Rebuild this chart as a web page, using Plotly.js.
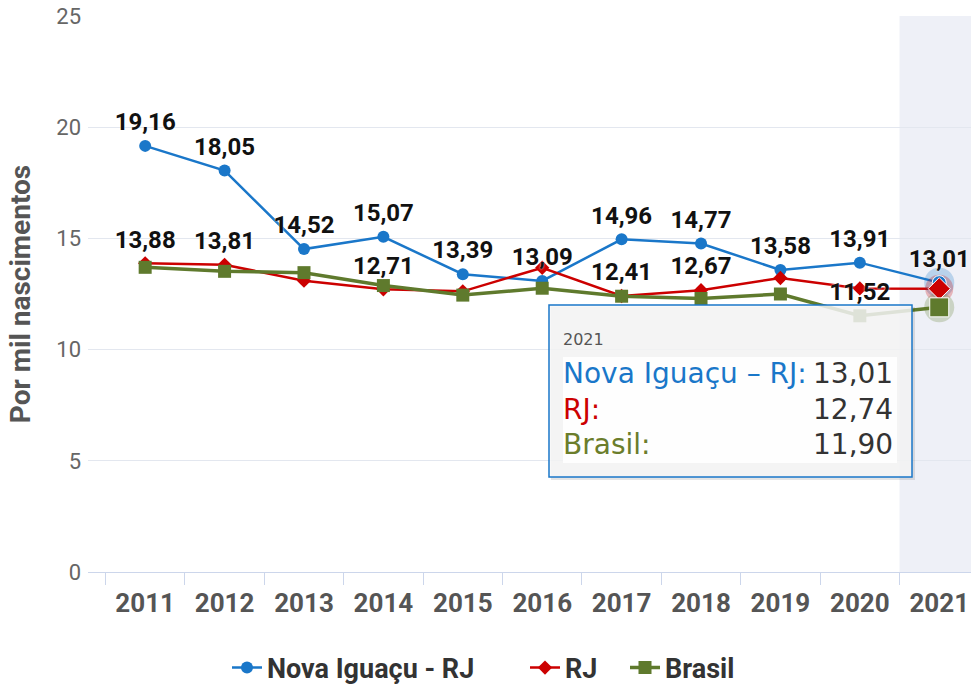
<!DOCTYPE html>
<html>
<head>
<meta charset="utf-8">
<script src="https://cdn.plot.ly/plotly-3.0.1.min.js"></script>
<style>html,body{margin:0;padding:0;background:#fff;}#chart{width:971px;height:685px;}</style>
</head>
<body>
<div id="chart"></div>
<script>
// ---- data ----
const years = ['2011','2012','2013','2014','2015','2016','2017','2018','2019','2020','2021'];
const novaIguacu = [19.16, 18.05, 14.52, 15.07, 13.39, 13.09, 14.96, 14.77, 13.58, 13.91, 13.01];
const rj         = [13.88, 13.81, 13.10, 12.71, 12.62, 13.68, 12.41, 12.67, 13.22, 12.75, 12.74];
const brasil     = [13.70, 13.52, 13.46, 12.88, 12.45, 12.76, 12.40, 12.30, 12.50, 11.52, 11.90];
const seriesNames = ['Nova Iguaçu - RJ', 'RJ', 'Brasil'];
const novaLabelYears = years.slice();
const rjLabelYears = ['2011','2012','2014','2017','2018'];
const brasilLabelYears = ['2020'];
const hoverYear = '2021';
const yTitle = 'Por mil nascimentos';

// ---- styles ----
const cNova = '#1a77c9', cRJ = '#cc0000', cBR = '#5f7a2d';
const fmt = v => v.toFixed(2).replace('.', ',');
const hi = years.indexOf(hoverYear);

// pixel -> paper helpers (plot area: x 88..971, y 16..572)
const W = 971, H = 685;
const PX0 = 88, PW = 883, PY0 = 572, PH = 556;
const px = x => (x - PX0) / PW;
const py = y => (PY0 - y) / PH;

function labelTrace(vals, showYears) {
  return {
    x: years, y: vals, mode: 'markers+text', type: 'scatter', showlegend: false, hoverinfo: 'skip',
    marker: {size: 14, opacity: 0, color: 'rgba(0,0,0,0)'},
    text: vals.map((v, i) => showYears.includes(years[i]) ? fmt(v) : ''),
    textposition: 'top center',
    textfont: {family: 'Roboto', size: 24, weight: 'bold', color: '#111', shadow: '0 0 2px #fff'},
    cliponaxis: false
  };
}

const traces = [
  {x: years, y: novaIguacu, name: seriesNames[0], type: 'scatter', mode: 'lines+markers', legend: 'legend',
   line: {color: cNova, width: 2.5}, marker: {symbol: 'circle', size: 12, color: cNova}},
  {x: years, y: rj, name: seriesNames[1], type: 'scatter', mode: 'lines+markers', legend: 'legend2',
   line: {color: cRJ, width: 2.5}, marker: {symbol: 'diamond', size: 11, color: cRJ}},
  {x: years, y: brasil, name: seriesNames[2], type: 'scatter', mode: 'lines+markers', legend: 'legend3',
   line: {color: cBR, width: 3.5}, marker: {symbol: 'square', size: 13, color: cBR}},
  // hover halos at the highlighted year
  {x: [years[hi]], y: [novaIguacu[hi]], type: 'scatter', mode: 'markers', showlegend: false, hoverinfo: 'skip',
   marker: {symbol: 'circle', size: 30, color: 'rgba(26,119,201,0.25)'}},
  {x: [years[hi]], y: [rj[hi]], type: 'scatter', mode: 'markers', showlegend: false, hoverinfo: 'skip',
   marker: {symbol: 'circle', size: 28, color: 'rgba(204,0,0,0.25)'}},
  {x: [years[hi]], y: [brasil[hi]], type: 'scatter', mode: 'markers', showlegend: false, hoverinfo: 'skip',
   marker: {symbol: 'circle', size: 30, color: 'rgba(95,122,45,0.25)'}},
  {x: [years[hi]], y: [novaIguacu[hi]], type: 'scatter', mode: 'markers', showlegend: false, hoverinfo: 'skip',
   marker: {symbol: 'circle', size: 14, color: cNova, line: {color: '#fff', width: 1}}},
  {x: [years[hi]], y: [rj[hi]], type: 'scatter', mode: 'markers', showlegend: false, hoverinfo: 'skip',
   marker: {symbol: 'diamond', size: 17, color: cRJ, line: {color: '#fff', width: 1}}},
  {x: [years[hi]], y: [brasil[hi]], type: 'scatter', mode: 'markers', showlegend: false, hoverinfo: 'skip',
   marker: {symbol: 'square', size: 19, color: cBR, line: {color: '#fff', width: 1}}},
  labelTrace(novaIguacu, novaLabelYears),
  labelTrace(rj, rjLabelYears),
  labelTrace(brasil, brasilLabelYears)
];

const ttFont = 'DejaVu Sans';
const ttRows = [
  {name: seriesNames[0].replace(' - ', ' – ') + ':', val: novaIguacu[hi], color: cNova, y: 373},
  {name: seriesNames[1] + ':', val: rj[hi], color: cRJ, y: 409},
  {name: seriesNames[2] + ':', val: brasil[hi], color: '#6b7d2b', y: 444}
];
const annotations = [
  {xref: 'paper', yref: 'paper', x: px(561), y: py(340), xanchor: 'left', yanchor: 'middle', showarrow: false,
   text: hoverYear, font: {family: ttFont, size: 16, color: '#555'}}
];
ttRows.forEach(r => {
  annotations.push({xref: 'paper', yref: 'paper', x: px(561), y: py(r.y), xanchor: 'left', yanchor: 'middle', showarrow: false,
    text: r.name, font: {family: ttFont, size: 28, color: r.color}});
  annotations.push({xref: 'paper', yref: 'paper', x: px(895), y: py(r.y), xanchor: 'right', yanchor: 'middle', showarrow: false,
    text: fmt(r.val), font: {family: ttFont, size: 28, color: '#333'}});
});

const shapes = [
  {type: 'rect', layer: 'below', xref: 'x', yref: 'paper', x0: hi - 0.5, x1: hi + 0.5, y0: 0, y1: 1,
   fillcolor: '#eef0f7', line: {width: 0}},
  {type: 'rect', layer: 'above', xref: 'paper', yref: 'paper', x0: px(551), x1: px(915), y0: py(480), y1: py(307),
   fillcolor: 'rgba(0,0,0,0.10)', line: {width: 0}},
  {type: 'rect', layer: 'above', xref: 'paper', yref: 'paper', x0: px(549), x1: px(912), y0: py(477), y1: py(305),
   fillcolor: 'rgba(247,247,247,0.85)', line: {color: cNova, width: 1.5}},
  {type: 'rect', layer: 'above', xref: 'paper', yref: 'paper', x0: px(563), x1: px(897), y0: py(463), y1: py(357),
   fillcolor: 'rgba(255,255,255,0.9)', line: {width: 0}}
];

const legendFont = {family: 'Roboto', size: 27, weight: 'bold', color: '#333'};
const legendBase = {orientation: 'h', xanchor: 'left', yanchor: 'middle', yref: 'container', y: 1 - 668 / H,
                    font: legendFont, itemwidth: 30, bgcolor: 'rgba(0,0,0,0)'};

const layout = {
  width: W, height: H,
  margin: {l: PX0, r: 0, t: 16, b: 113, pad: 0},
  paper_bgcolor: '#fff', plot_bgcolor: '#fff',
  showlegend: true,
  hovermode: false,
  xaxis: {
    type: 'category', range: [-0.72, 10.4], tickson: 'boundaries', ticks: 'outside', ticklen: 12,
    tickcolor: '#ccd6eb', tickwidth: 1, showgrid: false, showline: true, linecolor: '#ccd6eb', linewidth: 1,
    zeroline: false, fixedrange: true, ticklabelstandoff: 8,
    tickfont: {family: 'Roboto', size: 26, weight: 'bold', color: '#555'}
  },
  yaxis: {
    range: [0, 25], tickmode: 'linear', tick0: 0, dtick: 5, gridcolor: '#e3e7ef', gridwidth: 1,
    zeroline: false, showline: false, fixedrange: true, ticklabelstandoff: 6,
    tickfont: {family: 'Roboto', size: 22, color: '#666'},
    title: {text: yTitle, standoff: 17, font: {family: 'Roboto', size: 28, weight: 'bold', color: '#555'}}
  },
  legend: Object.assign({}, legendBase, {x: px(227)}),
  legend2: Object.assign({}, legendBase, {x: px(525)}),
  legend3: Object.assign({}, legendBase, {x: px(625)}),
  shapes: shapes,
  annotations: annotations
};

Plotly.newPlot('chart', traces, layout, {displayModeBar: false, staticPlot: true});
</script>
</body>
</html>
